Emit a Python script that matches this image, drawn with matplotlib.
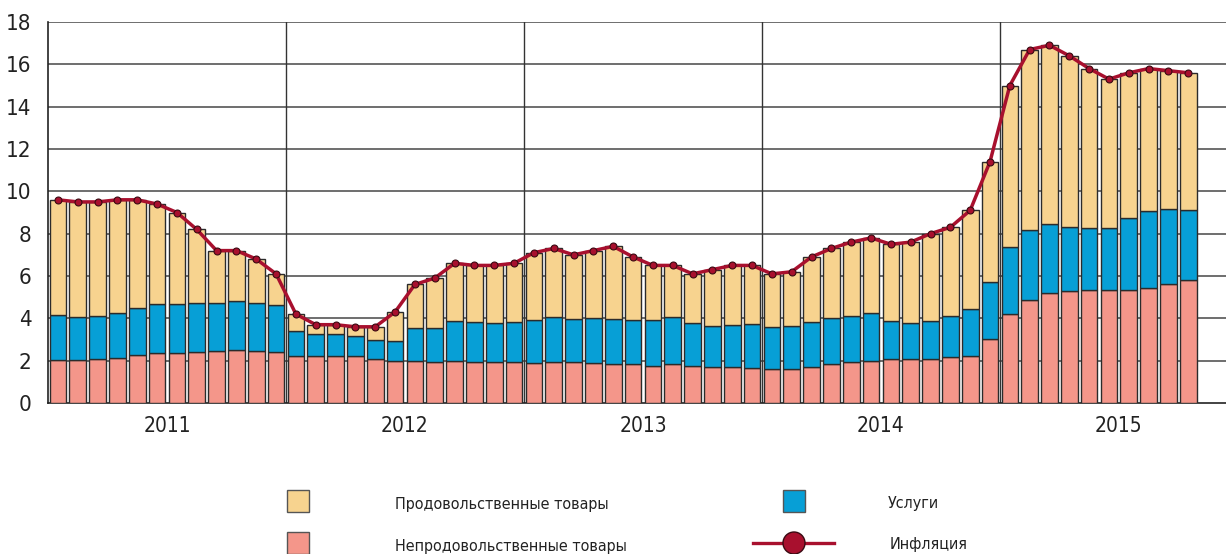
import matplotlib
matplotlib.use("Agg")

import matplotlib.font_manager as fm
import matplotlib.pyplot as plt
import numpy as np
from matplotlib.lines import Line2D
from matplotlib.patches import Circle, Rectangle

# ---------------------------------------------------------------------
# Data: contributions to annual CPI growth, Jan 2011 - Oct 2015, p.p.
# ---------------------------------------------------------------------

YEARS = ["2011", "2012", "2013", "2014", "2015"]

NONFOOD = [
    2.04, 2.04, 2.07, 2.12, 2.26, 2.35, 2.35, 2.43, 2.46, 2.50, 2.46, 2.39,
    2.21, 2.21, 2.21, 2.21, 2.06, 1.98, 1.99, 1.95, 1.98, 1.95, 1.92, 1.92,
    1.88, 1.96, 1.93, 1.88, 1.84, 1.84, 1.77, 1.82, 1.76, 1.68, 1.68, 1.65,
    1.60, 1.60, 1.71, 1.84, 1.92, 1.99, 2.09, 2.07, 2.07, 2.17, 2.21, 3.03,
    4.22, 4.88, 5.21, 5.31, 5.32, 5.32, 5.32, 5.43, 5.64, 5.80,
]

SERVICES = [
    2.12, 2.04, 2.06, 2.12, 2.21, 2.31, 2.31, 2.31, 2.28, 2.30, 2.25, 2.24,
    1.20, 1.04, 1.04, 0.95, 0.91, 0.97, 1.54, 1.58, 1.88, 1.86, 1.85, 1.89,
    2.03, 2.09, 2.03, 2.12, 2.13, 2.07, 2.17, 2.23, 2.01, 1.98, 2.02, 2.09,
    2.01, 2.03, 2.12, 2.16, 2.18, 2.25, 1.80, 1.73, 1.81, 1.94, 2.23, 2.71,
    3.15, 3.31, 3.25, 3.02, 2.96, 2.96, 3.44, 3.63, 3.54, 3.33,
]

FOOD = [
    5.44, 5.42, 5.37, 5.36, 5.13, 4.74, 4.34, 3.46, 2.46, 2.40, 2.09, 1.47,
    0.79, 0.45, 0.45, 0.44, 0.63, 1.35, 2.07, 2.37, 2.74, 2.69, 2.73, 2.79,
    3.19, 3.25, 3.04, 3.20, 3.43, 2.99, 2.56, 2.45, 2.33, 2.64, 2.80, 2.76,
    2.49, 2.57, 3.07, 3.30, 3.50, 3.56, 3.61, 3.80, 4.12, 4.19, 4.66, 5.66,
    7.63, 8.51, 8.44, 8.07, 7.52, 7.02, 6.84, 6.74, 6.52, 6.47,
]

INFLATION = [
    9.6, 9.5, 9.5, 9.6, 9.6, 9.4, 9.0, 8.2, 7.2, 7.2, 6.8, 6.1,
    4.2, 3.7, 3.7, 3.6, 3.6, 4.3, 5.6, 5.9, 6.6, 6.5, 6.5, 6.6,
    7.1, 7.3, 7.0, 7.2, 7.4, 6.9, 6.5, 6.5, 6.1, 6.3, 6.5, 6.5,
    6.1, 6.2, 6.9, 7.3, 7.6, 7.8, 7.5, 7.6, 8.0, 8.3, 9.1, 11.4,
    15.0, 16.7, 16.9, 16.4, 15.8, 15.3, 15.6, 15.8, 15.7, 15.6,
]

LABEL_FOOD = "Продовольственные товары"
LABEL_NONFOOD = "Непродовольственные товары"
LABEL_SERVICES = "Услуги"
LABEL_INFL = "Инфляция"

# ---------------------------------------------------------------------
# Style
# ---------------------------------------------------------------------

C_FOOD = "#F7D38F"
C_NONFOOD = "#F4968A"
C_SERV = "#079FD6"
C_LINE = "#A8102E"
C_EDGE = "#2b2b2b"
C_GRID = "#555555"

# the original uses a condensed face; take the narrowest one that is installed
fonts = fm.fontManager.ttflist
names = {f.name for f in fonts}
if "Liberation Sans Narrow" in names:
    plt.rcParams["font.family"] = ["Liberation Sans Narrow", "DejaVu Sans"]
    label_size, tick_size, year_size = 13, 18, 17
elif any(f.name == "DejaVu Sans" and f.stretch == "condensed" for f in fonts):
    plt.rcParams["font.family"] = ["DejaVu Sans"]
    plt.rcParams["font.stretch"] = "condensed"
    label_size, tick_size, year_size = 11.5, 16, 15
else:
    plt.rcParams["font.family"] = ["Liberation Sans", "DejaVu Sans"]
    label_size, tick_size, year_size = 11.5, 16, 15

W, H = 1226, 554
fig = plt.figure(figsize=(W / 100, H / 100), dpi=100)
ax = fig.add_axes([48 / W, (H - 403) / H, (W - 48) / W, (403 - 22) / H])

x = np.arange(len(INFLATION))
nonfood = np.array(NONFOOD)
serv = np.array(SERVICES)
food = np.array(FOOD)

bw = 0.84
bar_kw = dict(width=bw, edgecolor=C_EDGE, linewidth=1.0, zorder=3)
ax.bar(x, nonfood, color=C_NONFOOD, **bar_kw)
ax.bar(x, serv, bottom=nonfood, color=C_SERV, **bar_kw)
ax.bar(x, food, bottom=nonfood + serv, color=C_FOOD, **bar_kw)

ax.plot(x, INFLATION, color=C_LINE, linewidth=2.5, marker="o", markersize=5,
        markerfacecolor=C_LINE, markeredgecolor="#3a0a12", markeredgewidth=0.8,
        zorder=5)

# axes
ax.set_xlim(-0.5, 58.9)
ax.set_ylim(0, 18)
ax.set_yticks(range(0, 19, 2))
for yv in range(2, 19, 2):
    ax.axhline(yv, color=C_GRID, linewidth=1.2, zorder=1)
for i in range(1, len(YEARS)):
    ax.axvline(12 * i - 0.5, color="#333333", linewidth=1.0, zorder=1)

year_centers = [12 * i + 5.5 for i in range(len(YEARS))]
ax.set_xticks(year_centers)
ax.set_xticklabels(YEARS)
ax.tick_params(axis="x", length=0, pad=9, labelsize=year_size, colors="#222222")
ax.tick_params(axis="y", length=0, pad=12, labelsize=tick_size, colors="#222222")

for s in ["top", "right"]:
    ax.spines[s].set_visible(False)
for s in ["left", "bottom"]:
    ax.spines[s].set_color("#222222")
    ax.spines[s].set_linewidth(1.2)

# ---------------------------------------------------------------------
# Legend (drawn in pixel space below the chart)
# ---------------------------------------------------------------------

lax = fig.add_axes([0, 0, 1, 1])
lax.set_xlim(0, W)
lax.set_ylim(H, 0)
lax.axis("off")

patch_kw = dict(edgecolor="#555555", linewidth=1.0)
lax.add_patch(Rectangle((287, 490), 22, 22, facecolor=C_FOOD, **patch_kw))
lax.add_patch(Rectangle((287, 532), 22, 22, facecolor=C_NONFOOD, **patch_kw))
lax.add_patch(Rectangle((783, 490), 22, 22, facecolor=C_SERV, **patch_kw))
lax.add_line(Line2D([753, 834], [543, 543], color=C_LINE, linewidth=2.4))
lax.add_patch(Circle((794, 543), 11, facecolor=C_LINE, edgecolor="#3a0a12",
                     linewidth=1.0, zorder=3))

txt_kw = dict(fontsize=label_size, color="#222222", va="baseline", ha="left")
lax.text(395, 509, LABEL_FOOD, **txt_kw)
lax.text(395, 551, LABEL_NONFOOD, **txt_kw)
lax.text(888, 508, LABEL_SERVICES, **txt_kw)
lax.text(890, 549, LABEL_INFL, **txt_kw)

fig.savefig("out.png", dpi=100)
